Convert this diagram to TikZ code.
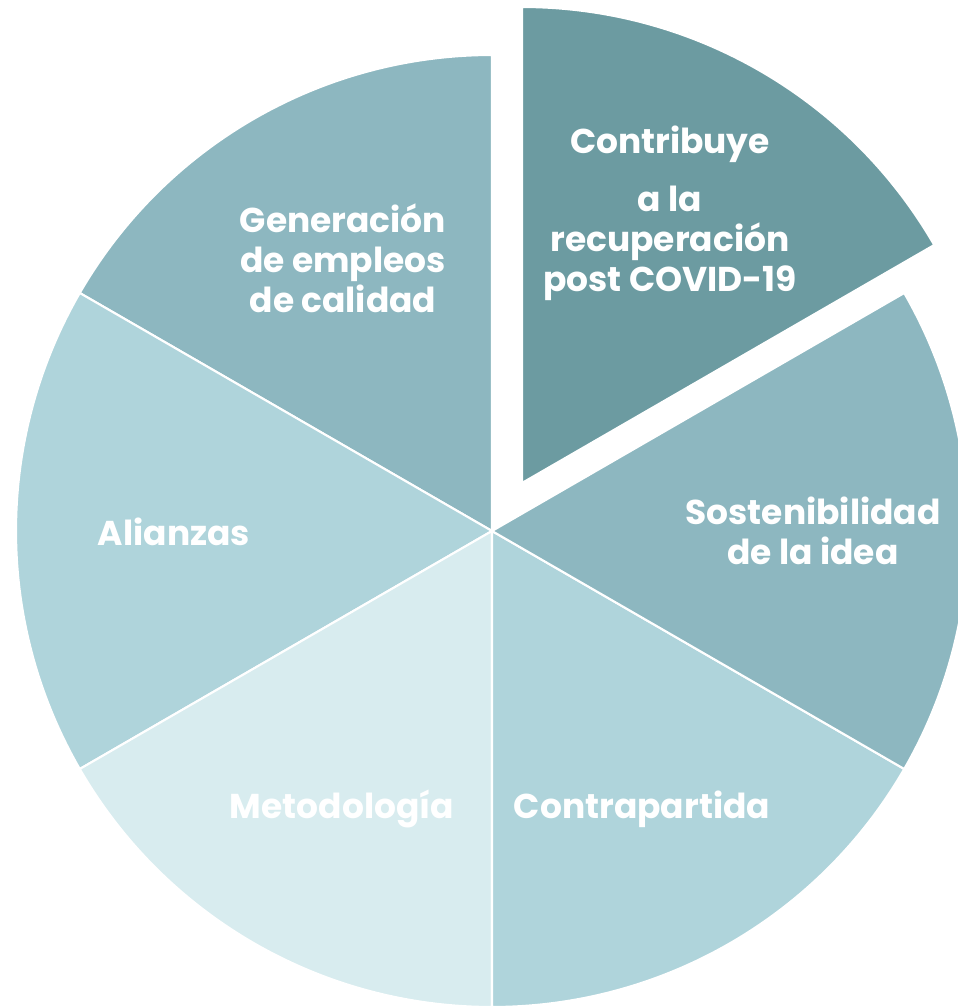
\documentclass[tikz,border=0pt]{standalone}
\usepackage{fontspec}
\setmainfont{Poppins}
\definecolor{cdark}{HTML}{6C9BA1}
\definecolor{cmid}{HTML}{8DB7C0}
\definecolor{clight}{HTML}{AFD4DB}
\definecolor{cpale}{HTML}{D8ECEF}
\tikzset{
  every picture/.style={x=0.025cm, y=0.025cm},
  slice/.style={fill=#1, draw=white, line width=1.5pt, line join=round},
  slicetext/.style={text=white, font=\fontsize{24.5}{28.4}\selectfont\bfseries, align=center, inner sep=0pt},
}

\begin{document}
\begin{tikzpicture}
  \useasboundingbox (0,0) rectangle (958,1008);
  % pie: centre and the centre of the pulled-out slice
  \coordinate (c) at (492,477);
  \coordinate (ce) at (522,525);
  \foreach \a/\col in {90/cmid, 150/clight, 210/cpale, 270/clight, 330/cmid} {
    \draw[slice=\col] (c) -- ++(\a:476) arc[start angle=\a, end angle=\a+60, radius=476] -- cycle;
  }
  \draw[slice=cdark] (ce) -- ++(30:476) arc[start angle=30, end angle=90, radius=476] -- cycle;
  % labels
  \node[slicetext] (contrib) at (670,795) {Contribuye\\[13pt]a la\\recuperación\\post COVID-19};
  \node[slicetext] (empleo) at (343,750) {Generación\\de empleos\\de calidad};
  \node[slicetext] (sosten) at (813,477) {Sostenibilidad\\de la idea};
  \node[slicetext, anchor=base] (alianza) at (174,462) {Alianzas};
  \node[slicetext, anchor=base] (metodo) at (342,189) {Metodología};
  \node[slicetext, anchor=base] (contra) at (642,189) {Contrapartida};
\end{tikzpicture}
\end{document}
